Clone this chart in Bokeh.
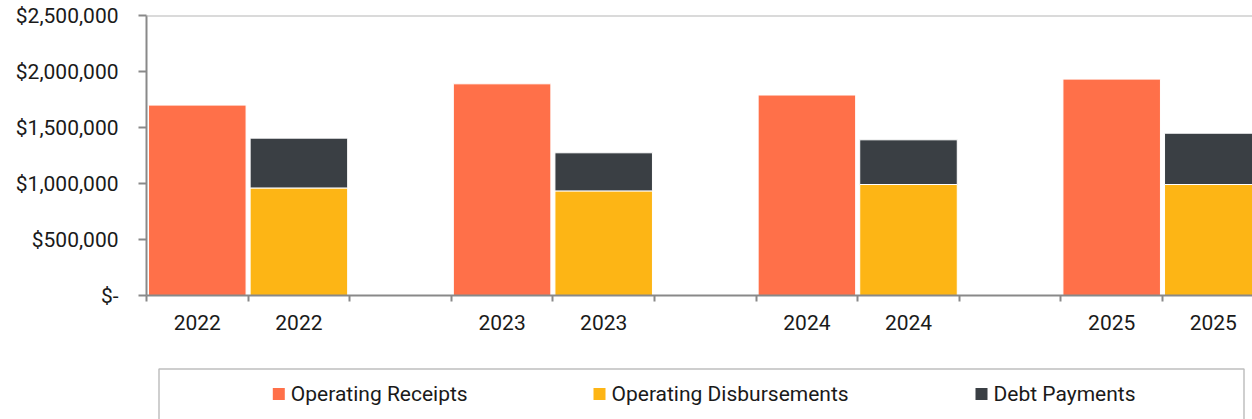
from bokeh.plotting import figure
from bokeh.models import (ColumnDataSource, Range1d, FixedTicker, NumeralTickFormatter, Span)
from bokeh.layouts import column
from bokeh.core.properties import value
from bokeh.embed import file_html
from bokeh.resources import INLINE

# ---- data ----
years = ["2022", "2023", "2024", "2025"]
operating_receipts = [1700000, 1890000, 1790000, 1932000]
operating_disbursements = [960000, 934000, 991000, 991000]
debt_payments = [445000, 340000, 399000, 458000]
series_names = ["Operating Receipts", "Operating Disbursements", "Debt Payments"]
y_ticks = [0, 500000, 1000000, 1500000, 2000000, 2500000]

# ---- style ----
C_REC = "#FF7049"
C_DIS = "#FDB515"
C_DEBT = "#3A3F44"
FONT = "Roboto"
FSIZE = "21px"
TXT = "#1a1a1a"
AX = "#898989"

# slot layout: [receipts, disbursements, gap] per year
slot_r = [3 * i + 0.5 for i in range(len(years))]
slot_d = [3 * i + 1.5 for i in range(len(years))]
n_slots = 3 * len(years) - 1

src_r = ColumnDataSource(dict(x=slot_r, top=operating_receipts))
src_d = ColumnDataSource(dict(x=slot_d, top=operating_disbursements))
src_b = ColumnDataSource(dict(x=slot_d, bottom=operating_disbursements,
                              top=[a + b for a, b in zip(operating_disbursements, debt_payments)]))

W = 1252
LEFT = 146
SLOT_PX = 101.6
p = figure(width=W, height=360, output_backend="svg", toolbar_location=None,
           x_range=Range1d(0, (W - LEFT) / SLOT_PX), y_range=Range1d(0, 2500000),
           min_border_left=LEFT, min_border_right=0, min_border_top=15, min_border_bottom=65)
p.outline_line_color = None
p.xgrid.visible = False
p.ygrid.visible = False
p.background_fill_color = "white"
p.border_fill_color = "white"

bw = 0.96
p.vbar(x="x", top="top", bottom=0, width=bw, source=src_r, fill_color=C_REC, line_color="white", line_width=1)
p.vbar(x="x", top="top", bottom=0, width=bw, source=src_d, fill_color=C_DIS, line_color="white", line_width=1)
p.vbar(x="x", top="top", bottom="bottom", width=bw, source=src_b, fill_color=C_DEBT, line_color="white", line_width=1)

p.add_layout(Span(location=2500000, dimension="width", line_color="#b5b5b5", line_width=2))

# y axis
ya = p.yaxis[0]
ya.ticker = FixedTicker(ticks=y_ticks, minor_ticks=[])
ya.formatter = NumeralTickFormatter(format="$0,0")
ya.major_label_overrides = {0: "$-"}
ya.axis_line_color = AX
ya.axis_line_width = 2
ya.major_tick_line_color = AX
ya.major_tick_line_width = 2
ya.major_tick_out = 8
ya.major_tick_in = 0
ya.minor_tick_line_color = None
ya.major_label_standoff = 20
ya.major_label_text_font = FONT
ya.major_label_text_font_size = FSIZE
ya.major_label_text_color = TXT

# x axis: labels at slot centres, tick marks at slot boundaries
centres = [i + 0.5 for i in range(n_slots)]
labels = {}
for i, c in enumerate(centres):
    labels[c] = years[i // 3] if i % 3 < 2 else ""
xa = p.xaxis[0]
xa.ticker = FixedTicker(ticks=centres, minor_ticks=list(range(0, n_slots + 1)))
xa.major_label_overrides = labels
xa.axis_line_color = AX
xa.axis_line_width = 2
xa.major_tick_line_color = None
xa.major_tick_out = 0
xa.major_tick_in = 0
xa.minor_tick_line_color = AX
xa.minor_tick_line_width = 2
xa.minor_tick_out = 6
xa.minor_tick_in = 0
xa.major_label_standoff = 13
xa.major_label_text_font = FONT
xa.major_label_text_font_size = FSIZE
xa.major_label_text_color = TXT

# ---- legend panel (data units == page pixels) ----
LH = 59
lg = figure(width=W, height=LH, output_backend="svg", toolbar_location=None,
            x_range=Range1d(LEFT, W), y_range=Range1d(0, LH),
            x_axis_location=None, y_axis_location=None,
            min_border=0, min_border_left=LEFT, min_border_right=0)
lg.outline_line_color = None
lg.xgrid.visible = False
lg.ygrid.visible = False
lg.border_fill_color = "white"
box_top = LH - 8.5
lg.multi_line(xs=[[158.5, 158.5, 1243.5, 1243.5]], ys=[[0, box_top, box_top, 0]],
              line_color="#bfbfbf", line_width=1.5)
item_x = [278.3, 599, 981]
legend_src = ColumnDataSource(dict(x=item_x, y=[LH - 33.5] * 3,
                                   tx=[x + 12 for x in item_x],
                                   label=series_names, color=[C_REC, C_DIS, C_DEBT]))
lg.scatter(x="x", y="y", marker="square", size=12, fill_color="color", line_color=None, source=legend_src)
lg.text(x="tx", y="y", text="label", source=legend_src, text_font=value(FONT),
        text_font_size=value(FSIZE), text_color=TXT, text_baseline="middle", text_align="left")

layout = column(p, lg)
open("out.html", "w").write(file_html(layout, INLINE))
